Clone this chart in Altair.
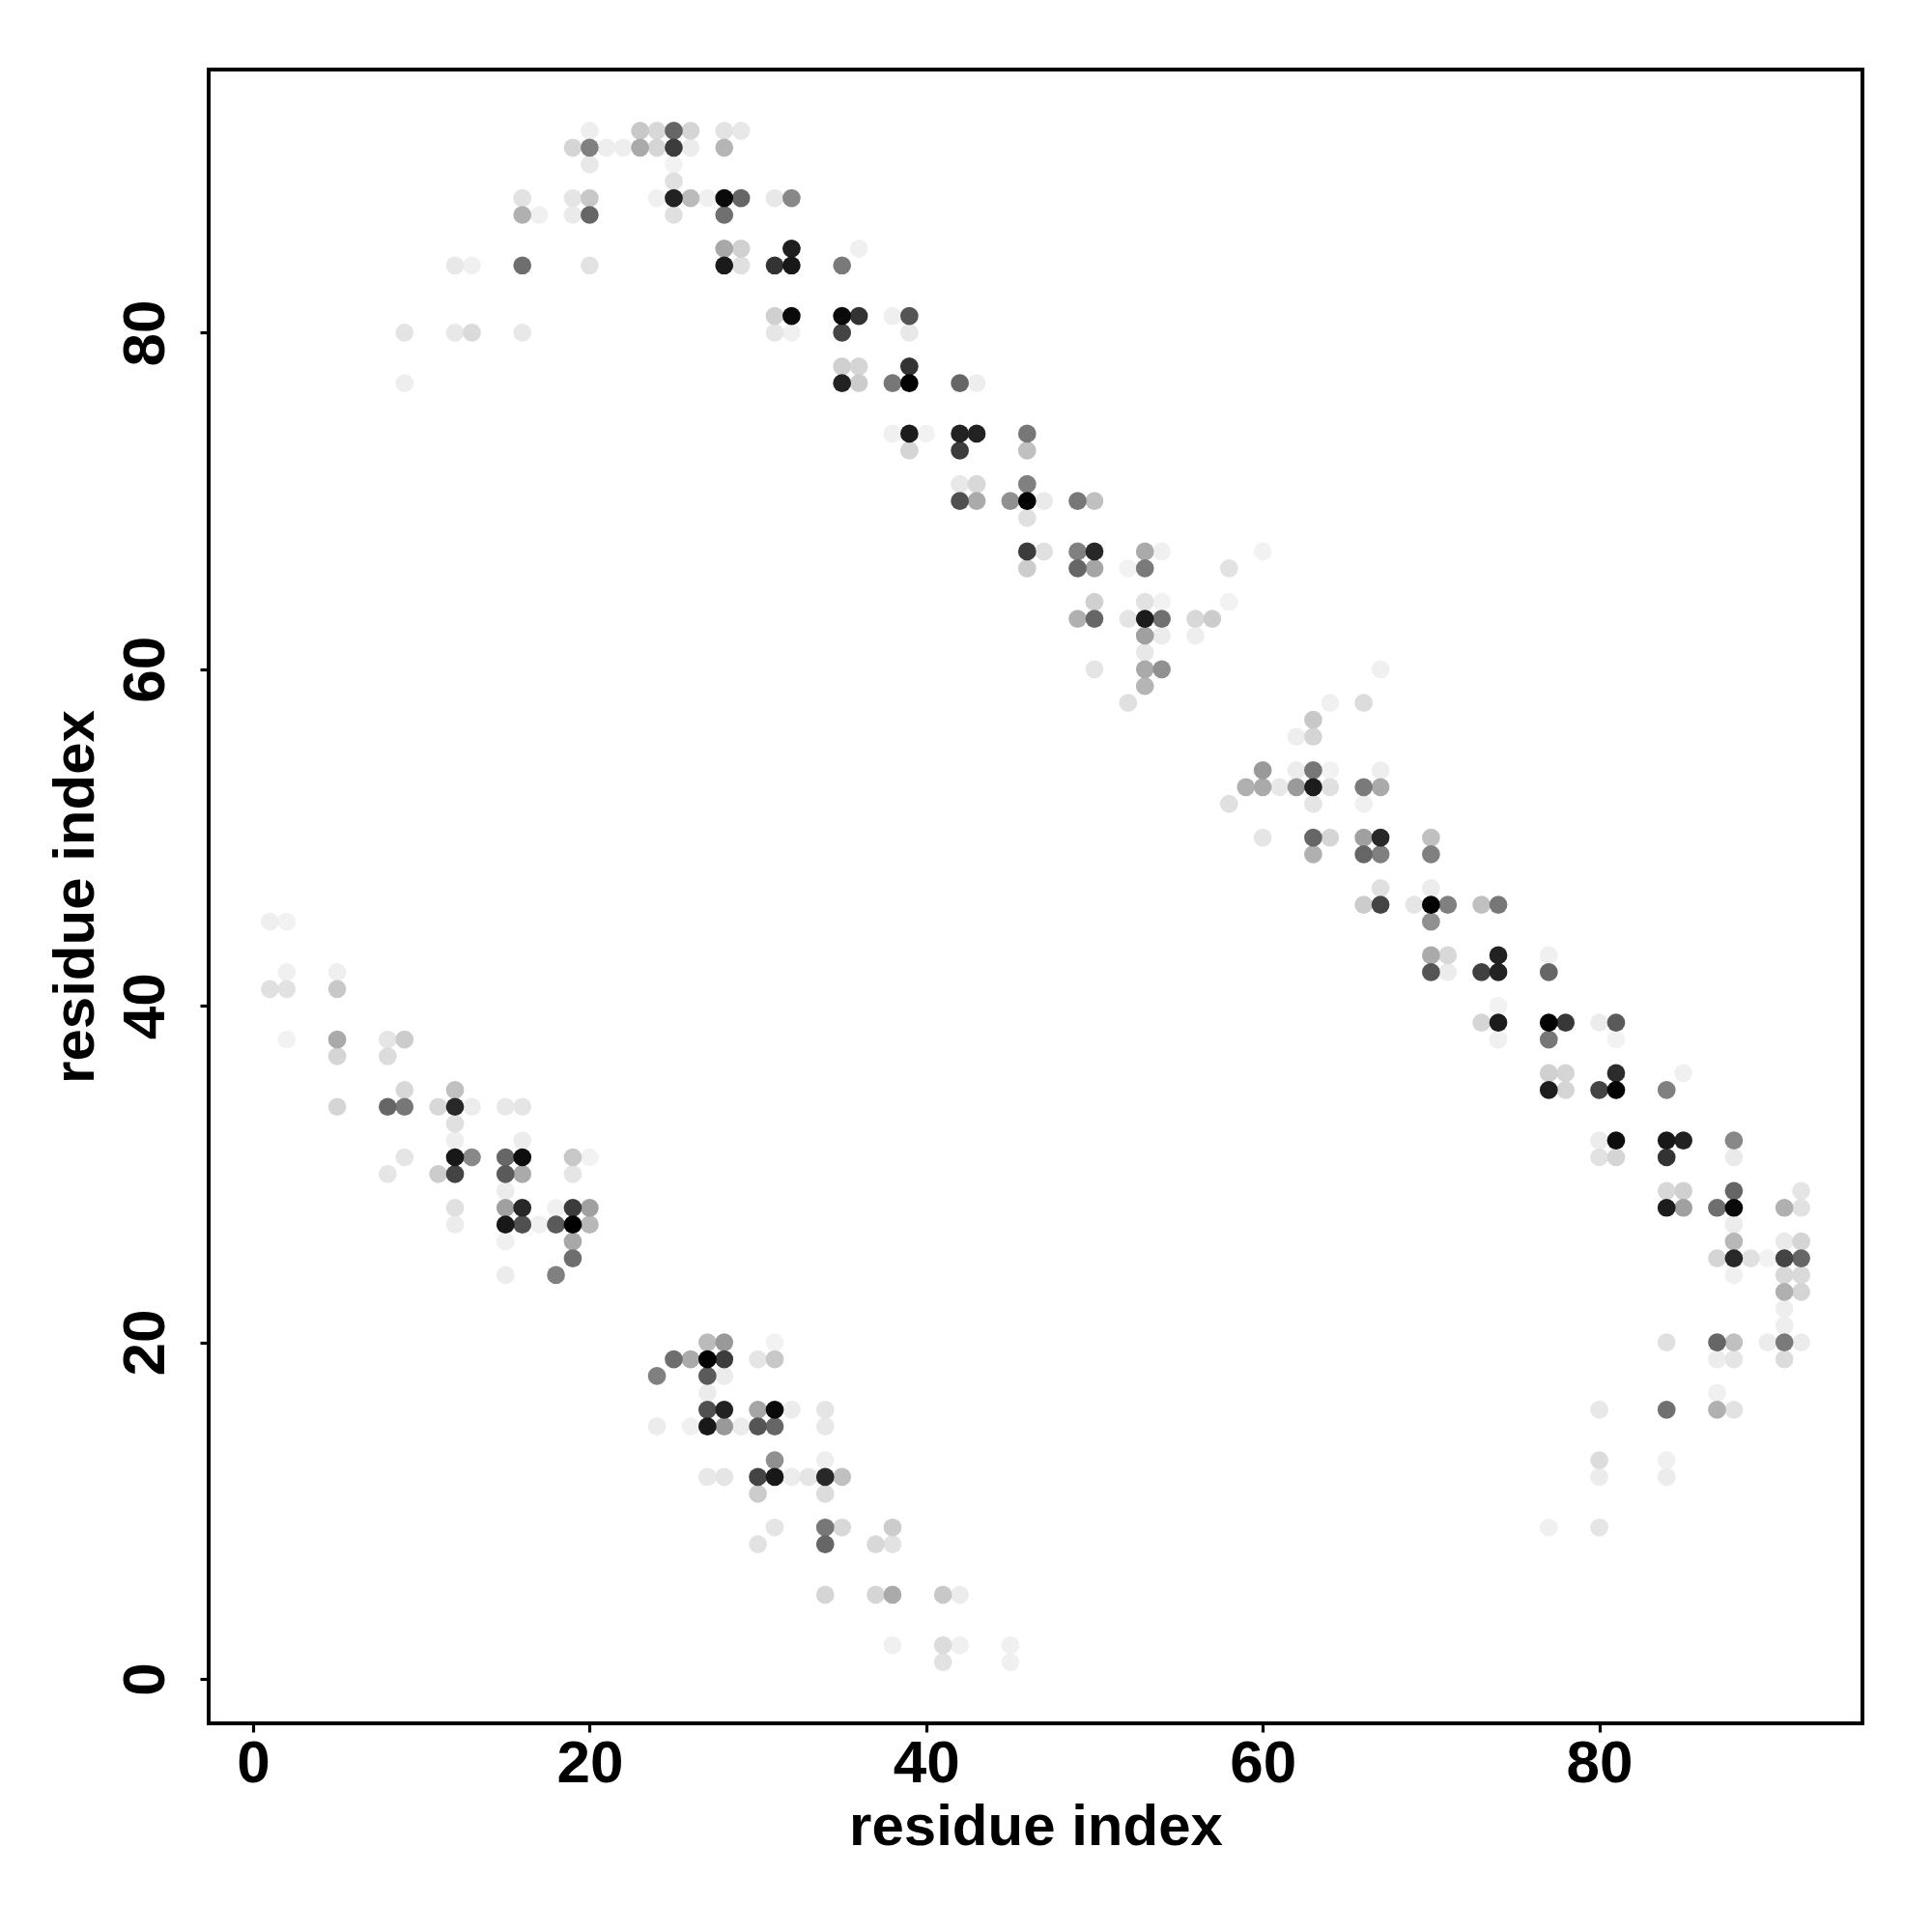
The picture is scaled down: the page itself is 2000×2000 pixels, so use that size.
import altair as alt
import pandas as pd

# residue index on the vertical axis, one entry per row of contacts
ROW_Y = [92, 91, 90, 89, 88, 87, 85, 84, 81, 80, 78, 77, 74, 73, 71, 70, 69, 67, 66, 64, 63, 62, 61, 60, 59, 58, 57, 56,
         54, 53, 52, 50, 49, 47, 46, 45, 43, 42, 41, 40, 39, 38, 37, 36, 35, 34, 33, 32, 31, 30, 29, 28, 27, 26, 25, 24,
         23, 22, 21, 20, 19, 18, 17, 16, 15, 13, 12, 11, 9, 8, 5, 2, 1]

# residue index on the horizontal axis, per row
ROW_X = [
    [20, 23, 24, 25, 26, 28, 29],
    [19, 20, 21, 22, 23, 24, 25, 26, 28],
    [20, 25],
    [25],
    [16, 19, 20, 24, 25, 26, 27, 28, 29, 31, 32],
    [16, 17, 19, 20, 25, 28],
    [28, 29, 32, 36],
    [12, 13, 16, 20, 28, 29, 31, 32, 35],
    [31, 32, 35, 36, 38, 39],
    [9, 12, 13, 16, 31, 32, 35, 39],
    [35, 36, 39],
    [9, 35, 36, 38, 39, 42, 43],
    [38, 39, 40, 42, 43, 46],
    [39, 42, 46],
    [42, 43, 46],
    [42, 43, 45, 46, 47, 49, 50],
    [46],
    [46, 47, 49, 50, 53, 54, 60],
    [46, 49, 50, 52, 53, 58],
    [50, 53, 54, 58],
    [49, 50, 52, 53, 54, 56, 57],
    [53, 54, 56],
    [53],
    [50, 53, 54, 67],
    [53],
    [52, 64, 66],
    [63],
    [62, 63],
    [60, 62, 63, 64, 67],
    [59, 60, 61, 62, 63, 64, 66, 67],
    [58, 63, 66],
    [60, 63, 64, 66, 67, 70],
    [63, 66, 67, 70],
    [67, 70],
    [66, 67, 69, 70, 71, 73, 74],
    [1, 2, 70],
    [70, 71, 74, 77],
    [2, 5, 70, 71, 73, 74, 77],
    [1, 2, 5],
    [74],
    [73, 74, 77, 78, 80, 81],
    [2, 5, 8, 9, 74, 77, 81],
    [5, 8],
    [77, 78, 81, 85],
    [9, 12, 77, 78, 80, 81, 84],
    [5, 8, 9, 11, 12, 13, 15, 16],
    [12],
    [12, 16, 80, 81, 84, 85, 88],
    [9, 12, 13, 15, 16, 19, 20, 80, 81, 84, 88],
    [8, 11, 12, 15, 16, 19],
    [15, 84, 85, 88, 92],
    [12, 15, 16, 18, 19, 20, 84, 85, 87, 88, 91, 92],
    [12, 15, 16, 17, 18, 19, 20, 88],
    [15, 19, 88, 91, 92],
    [19, 87, 88, 89, 90, 91, 92],
    [15, 18, 88, 91, 92],
    [91, 92],
    [91],
    [91],
    [27, 28, 31, 84, 87, 88, 90, 91, 92],
    [25, 26, 27, 28, 30, 31, 87, 88, 91],
    [24, 27, 28],
    [27, 87],
    [27, 28, 30, 31, 32, 34, 80, 84, 87, 88],
    [24, 26, 27, 28, 29, 30, 31, 34],
    [31, 34, 80, 84],
    [27, 28, 30, 31, 32, 33, 34, 35, 80, 84],
    [30, 34],
    [31, 34, 35, 38, 77, 80],
    [30, 34, 37, 38],
    [34, 37, 38, 41, 42],
    [38, 41, 42, 45],
    [41, 45],
]

# grey level of each dot (0 black, 255 white), per row
ROW_SHADE = [
    [0xee, 0xc8, 0xd8, 0x66, 0xd5, 0xe3, 0xe8],
    [0xd5, 0x80, 0xee, 0xee, 0xaa, 0xd5, 0x3c, 0xec, 0xb5],
    [0xe8, 0xf2],
    [0xe0],
    [0xe2, 0xe5, 0xc8, 0xf0, 0x22, 0xbb, 0xf0, 0x0a, 0x66, 0xe8, 0x88],
    [0xb0, 0xf0, 0xea, 0x66, 0xe0, 0x70],
    [0xa8, 0xd0, 0x1e, 0xf0],
    [0xe8, 0xf0, 0x6e, 0xe2, 0x1a, 0xe0, 0x33, 0x18, 0x7a],
    [0xd0, 0x0a, 0x0a, 0x33, 0xef, 0x55],
    [0xe4, 0xe8, 0xda, 0xe8, 0xe6, 0xf0, 0x44, 0xe8],
    [0xd0, 0xd5, 0x33],
    [0xee, 0x22, 0xcc, 0x77, 0x03, 0x66, 0xee],
    [0xf0, 0x1c, 0xf2, 0x22, 0x22, 0x77],
    [0xd5, 0x3c, 0xc0],
    [0xe8, 0xd8, 0x80],
    [0x50, 0xaa, 0x90, 0x03, 0xea, 0x77, 0xc0],
    [0xe0],
    [0x3c, 0xe0, 0x80, 0x28, 0xaa, 0xf0, 0xf2],
    [0xcc, 0x66, 0xa5, 0xf2, 0x7a, 0xe2],
    [0xd0, 0xe2, 0xf2, 0xf2],
    [0xb0, 0x66, 0xe5, 0x1c, 0x70, 0xd8, 0xcc],
    [0xa0, 0xec, 0xee],
    [0xe8],
    [0xe5, 0xaa, 0x90, 0xf0],
    [0xb5],
    [0xe0, 0xf0, 0xdc],
    [0xc8],
    [0xee, 0xd5],
    [0x99, 0xec, 0x77, 0xf2, 0xee],
    [0xb0, 0xaa, 0xe8, 0x9a, 0x1c, 0xe0, 0x7a, 0xaa],
    [0xe0, 0xe5, 0xf0],
    [0xe5, 0x66, 0xd5, 0xa0, 0x28, 0xc0],
    [0xb0, 0x66, 0x80, 0x80],
    [0xe0, 0xec],
    [0xcc, 0x44, 0xe5, 0x03, 0x80, 0xc0, 0x77],
    [0xef, 0xf2, 0x90],
    [0xaa, 0xd8, 0x22, 0xf0],
    [0xf0, 0xef, 0x55, 0xec, 0x40, 0x22, 0x66],
    [0xe0, 0xe2, 0xc8],
    [0xf2],
    [0xd5, 0x1c, 0x03, 0x38, 0xec, 0x5a],
    [0xf2, 0xaa, 0xe5, 0xcc, 0xf0, 0x77, 0xf2],
    [0xd5, 0xdc],
    [0xd0, 0xd5, 0x2c, 0xf0],
    [0xd8, 0xc0, 0x1e, 0xd5, 0x44, 0x03, 0x80],
    [0xd5, 0x66, 0x77, 0xd8, 0x28, 0xec, 0xe8, 0xe5],
    [0xe0],
    [0xee, 0xec, 0xec, 0x0e, 0x18, 0x22, 0x88],
    [0xe5, 0x18, 0x88, 0x66, 0x0e, 0xc8, 0xf2, 0xe2, 0xd5, 0x33, 0xea],
    [0xe5, 0xcc, 0x44, 0x5a, 0xaa, 0xe5],
    [0xec, 0xd8, 0xd0, 0x66, 0xe5],
    [0xe0, 0xa0, 0x28, 0xf0, 0x3c, 0xa0, 0x1c, 0xa0, 0x6e, 0x0a, 0xb0, 0xe2],
    [0xec, 0x18, 0x50, 0xf0, 0x5a, 0x00, 0xb8, 0xec],
    [0xf0, 0xa8, 0xb8, 0xea, 0xd5],
    [0x6e, 0xd5, 0x28, 0xe0, 0xf2, 0x44, 0x66],
    [0xec, 0x80, 0xf0, 0xd8, 0xda],
    [0xb0, 0xd5],
    [0xee],
    [0xee],
    [0xbb, 0x99, 0xf2, 0xe0, 0x66, 0xc0, 0xec, 0x7a, 0xec],
    [0x6e, 0xaa, 0x03, 0x3c, 0xe5, 0xc8, 0xec, 0xe5, 0xdc],
    [0x80, 0x5a, 0xec],
    [0xec, 0xf0],
    [0x50, 0x22, 0xa5, 0x0a, 0xec, 0xe5, 0xe8, 0x70, 0xb0, 0xe2],
    [0xec, 0xf0, 0x18, 0x99, 0xec, 0x55, 0x66, 0xe8],
    [0x90, 0xee, 0xdc, 0xf0],
    [0xe8, 0xe5, 0x44, 0x18, 0xec, 0xe5, 0x28, 0xc0, 0xec, 0xec],
    [0xcc, 0xdc],
    [0xe5, 0x77, 0xd8, 0xcc, 0xf0, 0xe5],
    [0xe2, 0x66, 0xd8, 0xe2],
    [0xd5, 0xd5, 0xaa, 0xc8, 0xec],
    [0xf0, 0xdc, 0xf0, 0xf0],
    [0xe2, 0xf0],
]

TICKS = [0, 20, 40, 60, 80]
AXIS_LABEL = "residue index"
FONT = "Liberation Sans"

records = []
for y, xs, gs in zip(ROW_Y, ROW_X, ROW_SHADE):
    assert len(xs) == len(gs), y
    for x, g in zip(xs, gs):
        records.append({"x": x, "y": y, "shade": g})
df = pd.DataFrame(records).sort_values("shade", ascending=False, kind="stable")

x_axis = alt.Axis(values=TICKS, title=AXIS_LABEL, grid=False, domain=False, ticks=True, tickSize=9, tickWidth=3.2,
                  tickColor="#000", labelFont=FONT, labelFontWeight="bold", labelFontSize=62, labelColor="#000",
                  labelPadding=2, titleFont=FONT, titleFontWeight="bold", titleFontSize=60, titleColor="#000",
                  titlePadding=6, labelFlush=False, labelOverlap=False)
y_axis = alt.Axis(values=TICKS, title=AXIS_LABEL, grid=False, domain=False, ticks=True, tickSize=9, tickWidth=3.2,
                  tickColor="#000", labelFont=FONT, labelFontWeight="bold", labelFontSize=62, labelColor="#000",
                  labelAngle=270, labelAlign="center", labelBaseline="alphabetic", labelPadding=38,
                  titleFont=FONT, titleFontWeight="bold", titleFontSize=60, titleColor="#000",
                  titlePadding=10, labelFlush=False, labelOverlap=False)

chart = (
    alt.Chart(df)
    .mark_circle(size=350, opacity=1)
    .encode(
        x=alt.X("x:Q", axis=x_axis, scale=alt.Scale(domain=[-2.64, 95.64], nice=False, zero=False)),
        y=alt.Y("y:Q", axis=y_axis, scale=alt.Scale(domain=[-2.64, 95.64], nice=False, zero=False)),
        color=alt.Color("shade:Q", legend=None,
                        scale=alt.Scale(domain=[0, 255], range=["#000000", "#ffffff"], interpolate="rgb")),
    )
    .properties(width=1712, height=1712, background="#ffffff",
                autosize=alt.AutoSizeParams(type="none"),
                padding={"left": 208, "top": 64, "right": 64, "bottom": 200})
    .configure_view(stroke="#000000", strokeWidth=4)
)

chart.save("out.html", embed_options={"renderer": "svg", "actions": False})
